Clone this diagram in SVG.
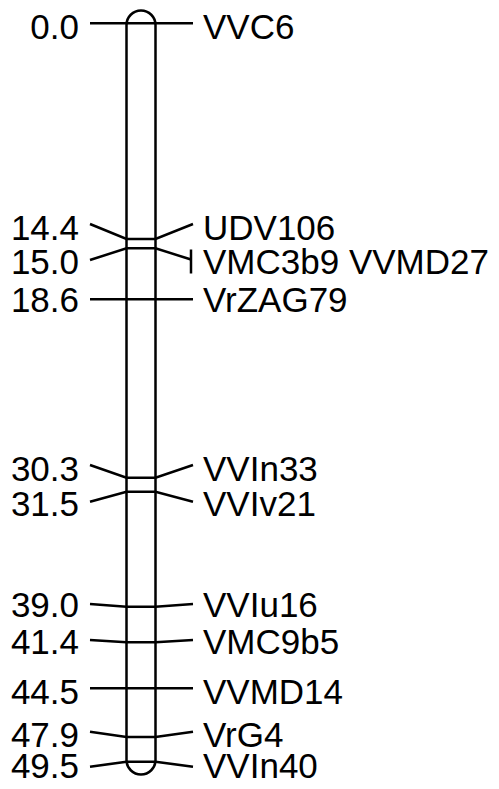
<svg xmlns="http://www.w3.org/2000/svg" width="499" height="789" viewBox="0 0 499 789">
<style>
.ln{stroke:#000;stroke-width:2.5;fill:none;stroke-linecap:butt}
.pos{font-family:"Liberation Sans",Arial,sans-serif;font-size:35px;fill:#000;text-anchor:end}
.nm{font-family:"Liberation Sans",Arial,sans-serif;font-size:35px;fill:#000;text-anchor:start}
</style>
<rect width="499" height="789" fill="#fff"/>
<g id="chromosome">
<rect class="ln" x="126.5" y="10.5" width="29" height="764" rx="14.5" ry="14.5"/>
</g>
<g id="connectors">
<polyline class="ln" points="90,23.3 126.5,23.3 155.5,23.3 193,23.3"/>
<polyline class="ln" points="90,224 126.5,239 155.5,239 193,224"/>
<polyline class="ln" points="90,260 126.5,248.3 155.5,248.3 191,259.5"/>
<line class="ln" x1="191" y1="249.5" x2="191" y2="273.5"/>
<polyline class="ln" points="90,299.3 126.5,299.3 155.5,299.3 193,299.3"/>
<polyline class="ln" points="90,465 126.5,477.7 155.5,477.7 193,465"/>
<polyline class="ln" points="90,501.7 126.5,491.7 155.5,491.7 193,501.7"/>
<polyline class="ln" points="90,604 126.5,606.7 155.5,606.7 193,604"/>
<polyline class="ln" points="90,640 126.5,642.3 155.5,642.3 193,640"/>
<polyline class="ln" points="90,688.3 126.5,688.3 155.5,688.3 193,688.3"/>
<polyline class="ln" points="90,731.7 126.5,737 155.5,737 193,731.7"/>
<polyline class="ln" points="90,766.7 126.5,761.7 155.5,761.7 193,766.7"/>
</g>
<g id="m-VVC6"><text class="pos" x="79" y="39">0.0</text><text class="nm" x="203" y="39">VVC6</text></g>
<g id="m-UDV106"><text class="pos" x="79" y="240">14.4</text><text class="nm" x="203" y="240">UDV106</text></g>
<g id="m-VMC3b9"><text class="pos" x="79" y="274">15.0</text><text class="nm" x="203" y="274">VMC3b9 VVMD27</text></g>
<g id="m-VrZAG79"><text class="pos" x="79" y="311.5">18.6</text><text class="nm" x="203" y="311.5">VrZAG79</text></g>
<g id="m-VVIn33"><text class="pos" x="79" y="480.5">30.3</text><text class="nm" x="203" y="480.5">VVIn33</text></g>
<g id="m-VVIv21"><text class="pos" x="79" y="516">31.5</text><text class="nm" x="203" y="516">VVIv21</text></g>
<g id="m-VVIu16"><text class="pos" x="79" y="617">39.0</text><text class="nm" x="203" y="617">VVIu16</text></g>
<g id="m-VMC9b5"><text class="pos" x="79" y="654">41.4</text><text class="nm" x="203" y="654">VMC9b5</text></g>
<g id="m-VVMD14"><text class="pos" x="79" y="704">44.5</text><text class="nm" x="203" y="704">VVMD14</text></g>
<g id="m-VrG4"><text class="pos" x="79" y="746.5">47.9</text><text class="nm" x="203" y="746.5">VrG4</text></g>
<g id="m-VVIn40"><text class="pos" x="79" y="778">49.5</text><text class="nm" x="203" y="778">VVIn40</text></g>
</svg>
